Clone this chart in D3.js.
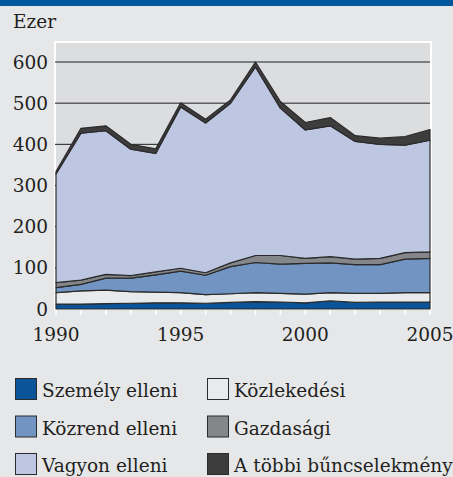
<!DOCTYPE html>
<html>
<head>
<meta charset="utf-8">
<script src="https://cdn.jsdelivr.net/npm/d3@7"></script>
<style>
  html, body { margin: 0; padding: 0; background: #e6e7e9; }
  svg { display: block; }
  text { font-family: "DejaVu Serif", serif; fill: #231f20; }
</style>
</head>
<body>
<div id="chart"></div>
<script>
// Adatok (ezer bűncselekmény)
const years = [1990, 1991, 1992, 1993, 1994, 1995, 1996, 1997, 1998, 1999, 2000, 2001, 2002, 2003, 2004, 2005];
const szemely   = [12, 12, 13, 14, 15, 15, 14, 16, 18, 17, 15, 20, 16, 17, 17, 17];
const kozlekedesi = [28, 32, 33, 28, 26, 25, 21, 21, 22, 21, 21, 20, 22, 21, 23, 23];
const kozrend   = [12, 16, 29, 33, 42, 52, 47, 66, 73, 71, 75, 72, 70, 70, 81, 83];
const gazdasagi = [12, 10, 9, 6, 7, 7, 6, 9, 17, 21, 12, 15, 13, 15, 16, 16];
const vagyon    = [264, 357, 349, 307, 288, 392, 364, 388, 458, 358, 312, 318, 286, 277, 261, 271];
const tobbi     = [6, 12, 12, 12, 11, 10, 9, 8, 12, 16, 18, 20, 14, 15, 21, 26];

const seriesNames = ["Személy elleni", "Közlekedési", "Közrend elleni", "Gazdasági", "Vagyon elleni", "A többi bűncselekmény"];
const seriesKeys = ["szemely", "kozlekedesi", "kozrend", "gazdasagi", "vagyon", "tobbi"];
const colors = ["#0b5499", "#e9eaec", "#7194c3", "#848689", "#bdc7e2", "#3d3d3e"];

const yTicks = [0, 100, 200, 300, 400, 500, 600];
const xTicks = [1990, 1995, 2000, 2005];

const width = 453;
const height = 477;

// Táblázat a stackhez
const table = years.map((y, i) => ({
  year: y,
  szemely: szemely[i],
  kozlekedesi: kozlekedesi[i],
  kozrend: kozrend[i],
  gazdasagi: gazdasagi[i],
  vagyon: vagyon[i],
  tobbi: tobbi[i]
}));

const svg = d3.select("#chart")
  .append("svg")
  .attr("width", width)
  .attr("height", height);

// Felső kék csík
svg.append("rect")
  .attr("x", 0).attr("y", 0)
  .attr("width", width).attr("height", 6)
  .attr("fill", "#00579b");

const x = d3.scaleLinear().domain([1990, 2005]).range([56, 430]);
const y = d3.scaleLinear().domain([0, 600]).range([309, 62]);

// Rajzterület háttér fehér kerettel
svg.append("rect")
  .attr("x", x.range()[0] - 1)
  .attr("y", y(600) - 20)
  .attr("width", x.range()[1] - x.range()[0] + 2)
  .attr("height", y(0) - y(600) + 20)
  .attr("fill", "#dcdddf")
  .attr("stroke", "#ffffff")
  .attr("stroke-width", 2);

// Rácsvonalak
svg.append("g")
  .selectAll("line")
  .data(yTicks.filter(d => d > 0))
  .enter().append("line")
  .attr("x1", x.range()[0] - 1)
  .attr("x2", x.range()[1])
  .attr("y1", d => y(d))
  .attr("y2", d => y(d))
  .attr("stroke", "#1e1e1e")
  .attr("stroke-width", 1);

// Halmozott területek
const stack = d3.stack().keys(seriesKeys);
const layers = stack(table);

const area = d3.area()
  .x(d => x(d.data.year))
  .y0(d => y(d[0]))
  .y1(d => y(d[1]));

svg.append("g")
  .selectAll("path")
  .data(layers)
  .enter().append("path")
  .attr("d", area)
  .attr("fill", (d, i) => colors[i])
  .attr("stroke", "#2b2b2b")
  .attr("stroke-width", 1.2)
  .attr("stroke-linejoin", "round");

// X tengely kis fehér jelölőkkel
svg.append("g")
  .selectAll("line")
  .data(years)
  .enter().append("line")
  .attr("x1", d => x(d))
  .attr("x2", d => x(d))
  .attr("y1", y(0) + 1)
  .attr("y2", y(0) + 6)
  .attr("stroke", "#ffffff")
  .attr("stroke-width", 1.5);

svg.append("g")
  .selectAll("text")
  .data(xTicks)
  .enter().append("text")
  .attr("x", d => x(d))
  .attr("y", 341)
  .attr("text-anchor", "middle")
  .style("font-size", "18.5px")
  .text(d => d);

// Y tengely feliratok
svg.append("g")
  .selectAll("text")
  .data(yTicks)
  .enter().append("text")
  .attr("x", 48)
  .attr("y", d => y(d) + 6.5)
  .attr("text-anchor", "end")
  .style("font-size", "18.5px")
  .text(d => d);

svg.append("text")
  .attr("x", 13)
  .attr("y", 28)
  .style("font-size", "18.5px")
  .text("Ezer");

// Jelmagyarázat
const legendOrder = [0, 1, 2, 3, 4, 5];
const legend = svg.append("g");
const items = legend.selectAll("g")
  .data(legendOrder)
  .enter().append("g")
  .attr("transform", (d, i) => {
    const col = i % 2;
    const row = Math.floor(i / 2);
    return `translate(${col === 0 ? 15 : 207}, ${378 + row * 37.5})`;
  });

items.append("rect")
  .attr("x", 0.5).attr("y", 0.5)
  .attr("width", 21).attr("height", 21)
  .attr("fill", d => colors[d])
  .attr("stroke", "#2b2b2b")
  .attr("stroke-width", 1);

items.append("text")
  .attr("x", 27)
  .attr("y", 19)
  .style("font-size", "18.5px")
  .text(d => seriesNames[d]);
</script>
</body>
</html>
